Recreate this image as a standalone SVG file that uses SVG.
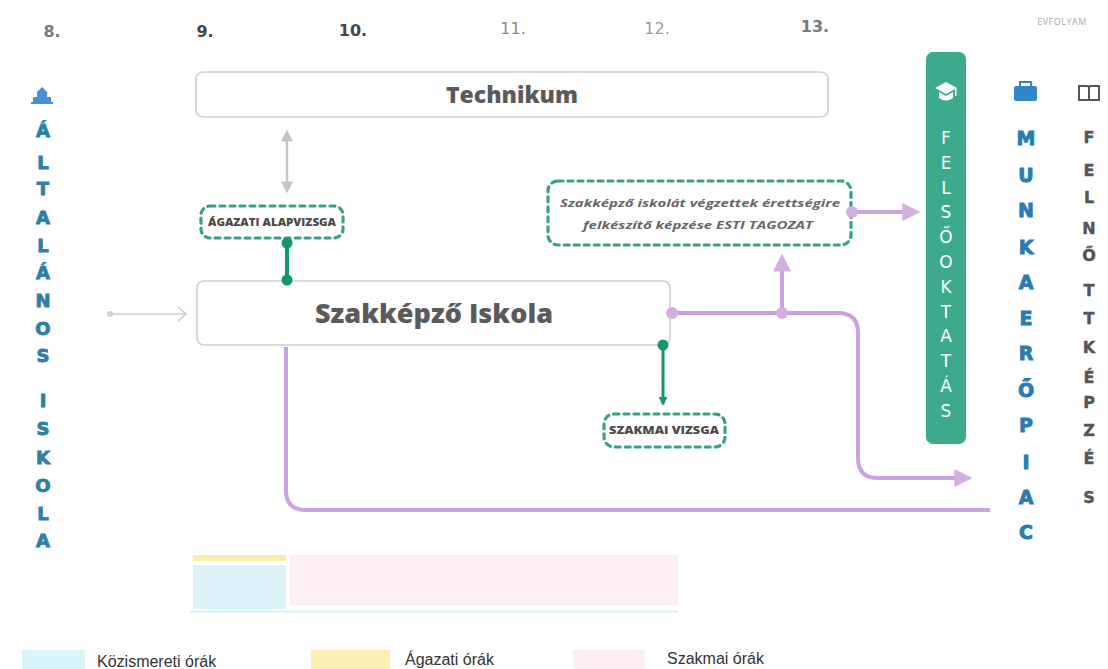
<svg xmlns="http://www.w3.org/2000/svg" width="1108" height="669" viewBox="0 0 1108 669">
<defs>
<style>
.hdr{font-family:"DejaVu Sans","Open Sans",sans-serif;font-weight:700;font-size:16px;text-anchor:middle}
.box{fill:#fff;stroke:#cfcfcf;stroke-width:1.6}
.title{font-family:"Open Sans","Liberation Sans",sans-serif;font-weight:800;fill:#5a5a5a;text-anchor:middle}
.dash{fill:#fff;stroke:#3a9e8a;stroke-width:3.2;stroke-dasharray:5 5;stroke-linecap:round}
.small{font-family:"Open Sans","Liberation Sans",sans-serif;font-weight:800;font-size:10px;fill:#4a4a4a;text-anchor:middle}
.esti{font-family:"Open Sans","Liberation Sans",sans-serif;font-weight:700;font-style:italic;font-size:10.5px;fill:#666;text-anchor:middle}
.lt{font-family:"DejaVu Sans","Open Sans",sans-serif;font-weight:700;font-size:18px;fill:#2e7fa5;stroke:#2e7fa5;stroke-width:0.9;text-anchor:middle}
.mk{font-family:"DejaVu Sans","Open Sans",sans-serif;font-weight:700;font-size:19px;fill:#2a7bb0;stroke:#2a7bb0;stroke-width:0.9;text-anchor:middle}
.fk{font-family:"DejaVu Sans","Open Sans",sans-serif;font-weight:700;font-size:16px;fill:#555;stroke:#555;stroke-width:0.4;text-anchor:middle}
.fo{font-family:"DejaVu Sans","Open Sans",sans-serif;font-weight:400;font-size:17px;fill:#fff;text-anchor:middle}
.purple{fill:none;stroke:#c9a3df;stroke-width:4;stroke-linejoin:round}
.green{fill:none;stroke:#15956f;stroke-width:4}
.leg{font-family:"Liberation Sans","Open Sans",sans-serif;font-size:16px;fill:#333}
</style>
<marker id="pArrow" viewBox="0 0 10 10" refX="2" refY="5" markerWidth="4.5" markerHeight="4.5" orient="auto" markerUnits="strokeWidth">
<path d="M0,0 L10,5 L0,10 Z" fill="#d4aee2"/>
</marker>
<marker id="gArrow" viewBox="0 0 10 10" refX="8" refY="5" markerWidth="5" markerHeight="5" orient="auto-start-reverse" markerUnits="strokeWidth">
<path d="M0,0 L10,5 L0,10 Z" fill="#c4c4c4"/>
</marker>
<marker id="grArrow" viewBox="0 0 10 10" refX="8" refY="5" markerWidth="3" markerHeight="3" orient="auto" markerUnits="strokeWidth">
<path d="M0,0 L10,5 L0,10 Z" fill="#15956f"/>
</marker>
</defs>
<rect width="1108" height="669" fill="#fff"/>

<g id="headers">
<text class="hdr" x="52" y="37" fill="#7a7a7a">8.</text>
<text class="hdr" x="205" y="37" fill="#444">9.</text>
<text class="hdr" x="353" y="36" fill="#444">10.</text>
<text class="hdr" x="513" y="34" fill="#8a8a8a" style="font-weight:400">11.</text>
<text class="hdr" x="657" y="34" fill="#9a9a9a" style="font-weight:400">12.</text>
<text class="hdr" x="815" y="32" fill="#7a7a7a">13.</text>
<text x="1062" y="25" font-family="Open Sans, Liberation Sans, sans-serif" font-size="9" fill="#aaa" text-anchor="middle" letter-spacing="0.5">EVFOLYAM</text>
</g>

<g id="altalanos">
<g fill="#4a8fd6">
<path d="M42,87 L48,93 L36,93 Z"/>
<rect x="37" y="93" width="10" height="4"/>
<rect x="33" y="97" width="18" height="5"/>
<rect x="31" y="102" width="22" height="2"/>
</g>
<text class="lt" x="43" y="137">Á</text>
<text class="lt" x="43" y="169">L</text>
<text class="lt" x="43" y="195">T</text>
<text class="lt" x="43" y="224">A</text>
<text class="lt" x="43" y="252">L</text>
<text class="lt" x="43" y="279">Á</text>
<text class="lt" x="43" y="307">N</text>
<text class="lt" x="43" y="335">O</text>
<text class="lt" x="43" y="362">S</text>
<text class="lt" x="43" y="407">I</text>
<text class="lt" x="43" y="435">S</text>
<text class="lt" x="43" y="464">K</text>
<text class="lt" x="43" y="492">O</text>
<text class="lt" x="43" y="520">L</text>
<text class="lt" x="43" y="547">A</text>
</g>

<g id="technikum">
<rect class="box" x="196" y="72" width="632" height="45" rx="7"/>
<text class="title" x="512" y="103" font-size="23">Technikum</text>
</g>

<g id="szakkepzo">
<rect class="box" x="197" y="281" width="473" height="64" rx="7"/>
<text class="title" x="434" y="323" font-size="26" textLength="238" lengthAdjust="spacingAndGlyphs">Szakképző Iskola</text>
</g>

<g id="agazati">
<rect class="dash" x="201" y="206" width="142" height="32" rx="9"/>
<text class="small" x="272" y="226" textLength="128" lengthAdjust="spacingAndGlyphs">ÁGAZATI ALAPVIZSGA</text>
</g>

<g id="esti">
<rect class="dash" x="548" y="181" width="303" height="64" rx="10"/>
<text class="esti" x="700" y="207" textLength="280" lengthAdjust="spacingAndGlyphs">Szakképző iskolát végzettek érettségire</text>
<text class="esti" x="698" y="229" textLength="230" lengthAdjust="spacingAndGlyphs">felkészítő képzése ESTI TAGOZAT</text>
</g>

<g id="szakmai">
<rect class="dash" x="604" y="414" width="121" height="33" rx="10"/>
<text class="small" x="664" y="434" font-size="9.5" fill="#333" textLength="110" lengthAdjust="spacingAndGlyphs">SZAKMAI VIZSGA</text>
</g>

<g id="connectors">
<circle cx="110" cy="314" r="3" fill="#d0d0d0"/>
<path d="M110,314 H185 M178,307 L186,314 L178,321" fill="none" stroke="#cfcfcf" stroke-width="1.6"/>
<line x1="287" y1="132" x2="287" y2="191" stroke="#c4c4c4" stroke-width="2.4" marker-start="url(#gArrow)" marker-end="url(#gArrow)"/>
<line class="green" x1="287" y1="243" x2="287" y2="280"/>
<circle cx="287" cy="243" r="5.5" fill="#15956f"/>
<circle cx="287" cy="280" r="5.5" fill="#15956f"/>
<line x1="663" y1="345" x2="663" y2="404" stroke="#15956f" stroke-width="3" marker-end="url(#grArrow)"/>
<circle cx="663" cy="345" r="5.5" fill="#15956f"/>
<path class="purple" d="M286,347 V490 Q286,510 306,510 H990"/>
<path class="purple" d="M672,313 H838 Q858,313 858,333 V458 Q858,478 878,478 H958" marker-end="url(#pArrow)"/>
<path class="purple" d="M782,313 V268" marker-end="url(#pArrow)"/>
<path class="purple" d="M852,212 H906" stroke-width="3" marker-end="url(#pArrow)"/>
<circle cx="672" cy="313" r="6" fill="#d7acdf"/>
<circle cx="782" cy="313" r="6" fill="#d7acdf"/>
<circle cx="852" cy="212" r="6" fill="#d7acdf"/>
</g>

<g id="felsooktatas">
<rect x="926" y="52" width="40" height="392" rx="7" fill="#3daa8e"/>
<g fill="#fff">
<path d="M946,82 L957,88 L946,94 L935,88 Z"/>
<path d="M939,92 V98 Q946,103 953,98 V92 L946,96 Z"/>
<rect x="955" y="88" width="1.5" height="8"/>
</g>
<text class="fo" x="946" y="144">F</text>
<text class="fo" x="946" y="169">E</text>
<text class="fo" x="946" y="194">L</text>
<text class="fo" x="946" y="218">S</text>
<text class="fo" x="946" y="243">Ő</text>
<text class="fo" x="946" y="268">O</text>
<text class="fo" x="946" y="293">K</text>
<text class="fo" x="946" y="318">T</text>
<text class="fo" x="946" y="342">A</text>
<text class="fo" x="946" y="367">T</text>
<text class="fo" x="946" y="392">Á</text>
<text class="fo" x="946" y="417">S</text>
</g>

<g id="munkaeropiac">
<g fill="#2f87c8">
<rect x="1014" y="86" width="23" height="15" rx="2"/>
<path d="M1020,86 V82 H1031 V86" fill="none" stroke="#2f87c8" stroke-width="2"/>
</g>
<text class="mk" x="1026" y="145">M</text>
<text class="mk" x="1026" y="182">U</text>
<text class="mk" x="1026" y="217">N</text>
<text class="mk" x="1026" y="254">K</text>
<text class="mk" x="1026" y="289">A</text>
<text class="mk" x="1026" y="325">E</text>
<text class="mk" x="1026" y="360">R</text>
<text class="mk" x="1026" y="397">Ő</text>
<text class="mk" x="1026" y="432">P</text>
<text class="mk" x="1026" y="469">I</text>
<text class="mk" x="1026" y="504">A</text>
<text class="mk" x="1026" y="539">C</text>
</g>

<g id="felnottkepzes">
<path d="M1079,86 H1087 Q1089,86 1089,88 V100 H1079 Z M1099,86 H1091 Q1089,86 1089,88 V100 H1099 Z" fill="none" stroke="#555" stroke-width="2"/>
<text class="fk" x="1089" y="143">F</text>
<text class="fk" x="1089" y="176">E</text>
<text class="fk" x="1089" y="203">L</text>
<text class="fk" x="1089" y="234">N</text>
<text class="fk" x="1089" y="261">Ő</text>
<text class="fk" x="1089" y="296">T</text>
<text class="fk" x="1089" y="324">T</text>
<text class="fk" x="1089" y="353">K</text>
<text class="fk" x="1089" y="383">É</text>
<text class="fk" x="1089" y="408">P</text>
<text class="fk" x="1089" y="436">Z</text>
<text class="fk" x="1089" y="464">É</text>
<text class="fk" x="1089" y="503">S</text>
</g>

<g id="orabar" opacity="0.8">
<rect x="193" y="555" width="93" height="6" fill="#fbe99a"/>
<rect x="193" y="565" width="93" height="44" fill="#d4f1f8"/>
<rect x="290" y="555" width="388" height="50" fill="#fcebf2"/>
<rect x="190" y="610" width="488" height="3" fill="#dff5f0"/>
</g>

<g id="legend">
<rect x="22" y="650" width="63" height="19" fill="#d9f3fa"/>
<text class="leg" x="97" y="667">Közismereti órák</text>
<rect x="311" y="650" width="79" height="19" fill="#fcefb3"/>
<text class="leg" x="405" y="665">Ágazati órák</text>
<rect x="573" y="650" width="72" height="19" fill="#fcedf3"/>
<text class="leg" x="667" y="664">Szakmai órák</text>
</g>
</svg>
